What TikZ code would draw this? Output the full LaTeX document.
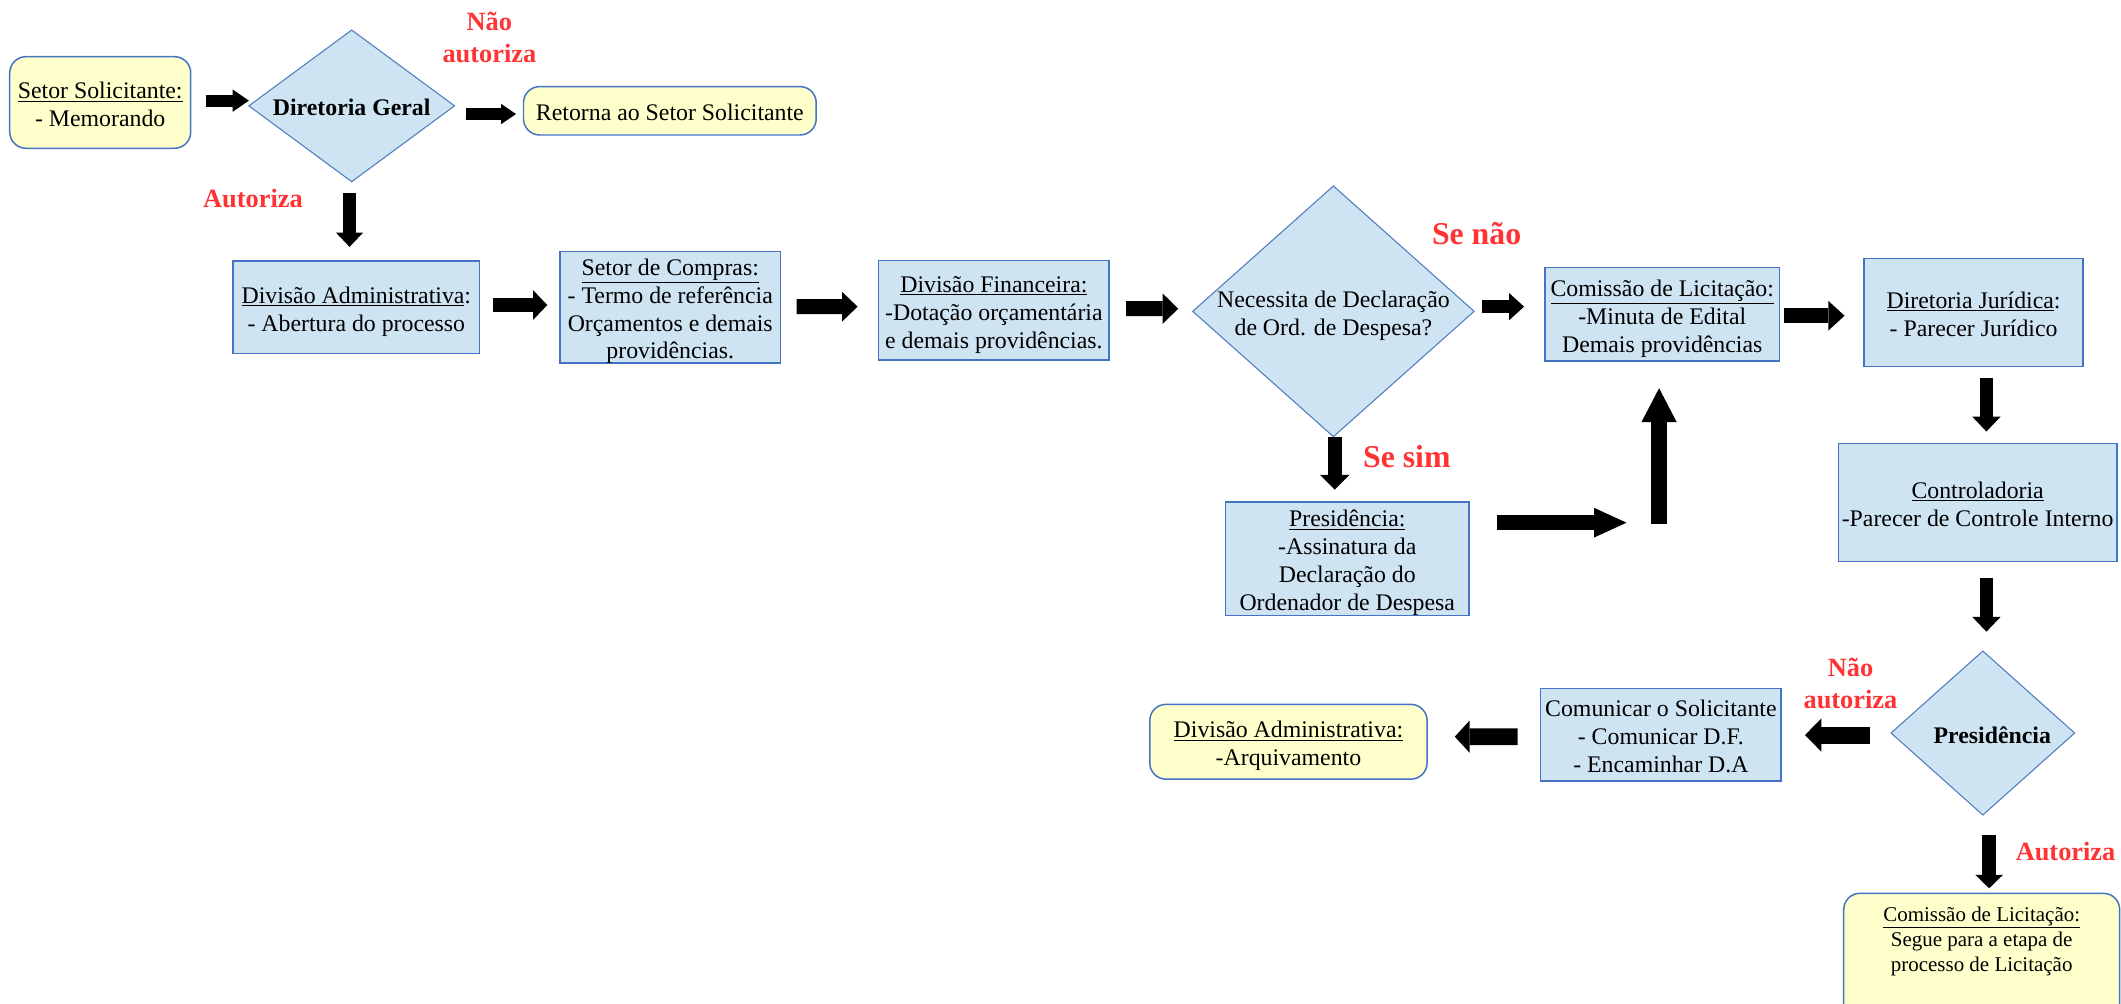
\documentclass[tikz,border=0pt]{standalone}
\usepackage{fontspec}
\setmainfont{Liberation Serif}
\usetikzlibrary{shapes.geometric,arrows.meta}
\definecolor{lblue}{RGB}{207,228,243}
\definecolor{bdr}{RGB}{68,114,196}
\definecolor{dbdr}{RGB}{84,124,192}
\definecolor{lyel}{RGB}{255,255,204}
\definecolor{lred}{RGB}{255,51,51}
\newcommand\mlines[1]{\makebox[0pt]{\raisebox{-3.3pt}[\height][\depth]{\begin{tabular}{@{}c@{}}#1\end{tabular}}}}
\tikzset{
 base/.style={inner sep=0pt, outer sep=0pt, font=\fontsize{17.6}{20.6}\selectfont, align=center},
 box/.style={base, rectangle, draw=bdr, fill=lblue, line width=1.1pt},
 ybox/.style={base, rectangle, rounded corners=12pt, draw=bdr, fill=lyel, line width=1.1pt},
 dia/.style={base, diamond, draw=dbdr, fill=lblue, line width=0.8pt},
 lab/.style={text=lred, font=\bfseries\fontsize{19.5}{23.4}\selectfont, align=center, inner sep=0pt},
 bigl/.style={text=lred, font=\bfseries\fontsize{23.5}{28}\selectfont, inner sep=0pt},
 barrow/.style n args={3}{draw=black, line width=#1, -{Triangle[width=#2,length=#3,line width=0pt]}},
}
\begin{document}
\begin{tikzpicture}[x=1pt,y=-1pt]
\useasboundingbox (0,0) rectangle (1568,742);
% nodes
\node[ybox, minimum width=133.8pt, minimum height=67.7pt] (ss) at (74.1,75.75) {\mlines{\underline{Setor Solicitante:}\\- Memorando}};
\node[dia, minimum width=152pt, minimum height=112.1pt] (dg) at (260,78.25) {\mlines{\textbf{Diretoria Geral}}};
\node[ybox, minimum width=216.4pt, minimum height=35.8pt] (ret) at (495.2,81.9) {\mlines{Retorna ao Setor Solicitante}};
\node[box, minimum width=182.3pt, minimum height=68.2pt] (da) at (263.45,227.1) {\mlines{\underline{Divisão Administrativa}:\\- Abertura do processo}};
\node[box, minimum width=163pt, minimum height=82pt] (sc) at (495.5,227) {\mlines{\underline{Setor de Compras:}\\- Termo de referência\\Orçamentos e demais\\providências.}};
\node[box, minimum width=170.5pt, minimum height=73.3pt] (dfi) at (734.75,229.35) {\mlines{\underline{Divisão Financeira:}\\-Dotação orçamentária\\e demais providências.}};
\node[dia, minimum width=208pt, minimum height=185.3pt] (nec) at (985.75,230.15) {\mlines{Necessita de Declaração\\de Ord. de Despesa?}};
\node[box, minimum width=173.7pt, minimum height=69pt] (cl) at (1228.85,232.4) {\mlines{\underline{Comissão de Licitação:}\\-Minuta de Edital\\Demais providências}};
\node[box, minimum width=162pt, minimum height=80pt] (dj) at (1459,231) {\mlines{\underline{Diretoria Jurídica}:\\- Parecer Jurídico}};
\node[box, minimum width=206pt, minimum height=87pt] (ctrl) at (1462,371.5) {\mlines{\underline{Controladoria}\\-Parecer de Controle Interno}};
\node[dia, minimum width=135.7pt, minimum height=121.2pt] (pd) at (1465.85,541.9) {\mlines{\hspace*{14pt}\textbf{Presidência}}};
\node[box, minimum width=177.7pt, minimum height=68.5pt] (com) at (1227.85,543.15) {\mlines{Comunicar o Solicitante\\- Comunicar D.F.\\- Encaminhar D.A}};
\node[ybox, minimum width=205pt, minimum height=55.3pt] (dad2) at (952.5,548.35) {\mlines{\underline{Divisão Administrativa:}\\-Arquivamento}};
\node[ybox, anchor=north, minimum width=204pt] (cl2) at (1465,660.4) {\fontsize{15.5}{18.7}\selectfont\raisebox{0pt}[20.6pt][80pt]{\begin{tabular}[t]{@{}c@{}}\underline{Comissão de Licitação:}\\Segue para a etapa de\\processo de Licitação\end{tabular}}};
\node[box, minimum width=180.2pt, minimum height=84pt] (pr) at (996,413) {\mlines{\underline{Presidência:}\\-Assinatura da\\Declaração do\\Ordenador de Despesa}};
% labels
\node[lab] (nao1) at (361.8,27.5) {Não\\autoriza};
\node[lab] (aut1) at (187,146.6) {Autoriza};
\node[bigl] (senao) at (1091.6,172.4) {Se não};
\node[bigl] (sesim) at (1040,337.9) {Se sim};
\node[lab] (nao2) at (1368,505.3) {Não\\autoriza};
\node[lab] (aut2) at (1527,629.6) {Autoriza};
\coordinate (turn) at (1226.5,386.4);
% arrows
\draw[barrow={9pt}{16.5pt}{12pt}] ([shift={(11,-1.35)}]ss.east) -- ([shift={(0,-3.85)}]dg.west);
\draw[barrow={8.6pt}{15pt}{11pt}] ([shift={(8.5,6)}]dg.east) -- ([shift={(-5.5,2.4)}]ret.west);
\draw[barrow={10pt}{20pt}{10.5pt}] ([shift={(-1.6,8.7)}]dg.south) -- ([shift={(-5.05,-10.5)}]da.north);
\draw[barrow={11pt}{22pt}{10.5pt}] ([shift={(10,-1.6)}]da.east) -- ([shift={(-9.4,-1.5)}]sc.west);
\draw[barrow={11pt}{22pt}{11.5pt}] ([shift={(12,-0.3)}]sc.east) -- ([shift={(-15.5,-2.65)}]dfi.west);
\draw[barrow={11pt}{22.5pt}{11.5pt}] ([shift={(12.5,-1.15)}]dfi.east) -- ([shift={(-10.75,-1.95)}]nec.west);
\draw[barrow={10pt}{20pt}{11pt}] ([shift={(5.85,-3.45)}]nec.east) -- ([shift={(-15.3,-5.7)}]cl.west);
\draw[barrow={11pt}{22pt}{12pt}] ([shift={(3.3,1)}]cl.east) -- ([shift={(-14.4,2.4)}]dj.west);
\draw[barrow={10pt}{21pt}{11pt}] ([shift={(9.5,8.5)}]dj.south) -- ([shift={(6.5,-9)}]ctrl.north);
\draw[barrow={10pt}{21pt}{11pt}] ([shift={(6.5,12)}]ctrl.south) -- ([shift={(2.65,-14.3)}]pd.north);
\draw[barrow={12.5pt}{24.5pt}{12pt}] ([shift={(-15.6,1.5)}]pd.west) -- ([shift={(17.7,0.25)}]com.east);
\draw[barrow={12.3pt}{24pt}{11pt}] ([shift={(-17,1.45)}]com.west) -- ([shift={(20.5,-3.75)}]dad2.east);
\draw[barrow={10pt}{20.5pt}{10pt}] ([shift={(4.65,14.8)}]pd.south) -- ([shift={(5.5,-3.7)}]cl2.north);
\draw[barrow={10.2pt}{22pt}{11pt}] ([shift={(0.95,0)}]nec.south) -- ([shift={(-9.3,-9)}]pr.north);
\draw[barrow={11pt}{22pt}{24pt}] ([shift={(20.5,-26.6)}]pr.east) -- ([shift={(-24.1,0)}]turn);
\draw[barrow={12pt}{26pt}{25pt}] ([shift={(0,1)}]turn) -- ([shift={(-2.35,20.1)}]cl.south);
\end{tikzpicture}
\end{document}
